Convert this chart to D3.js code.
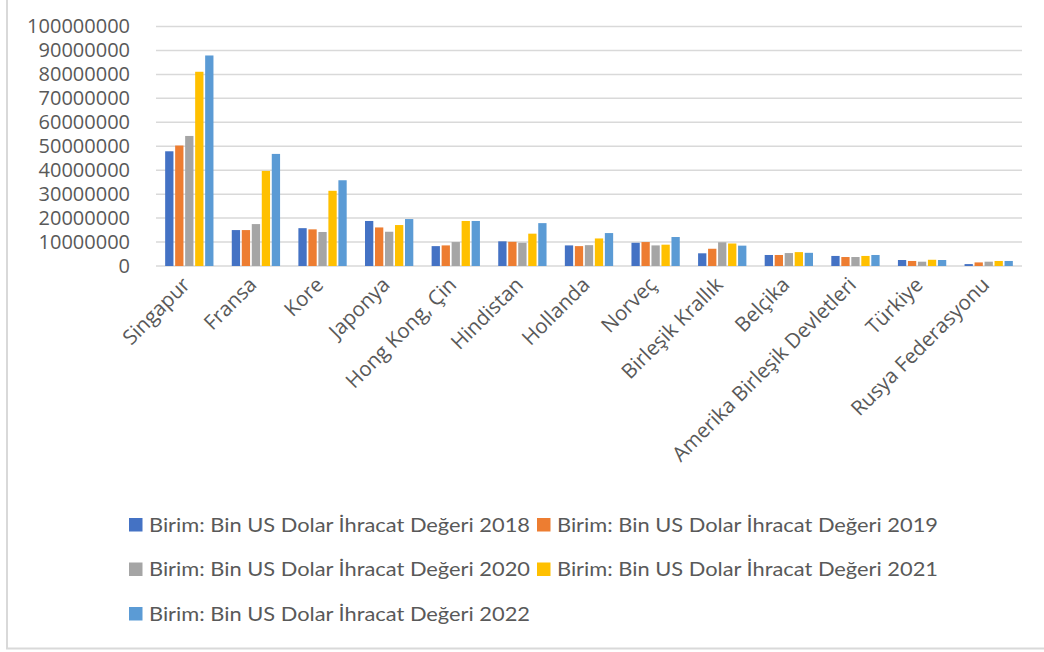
<!DOCTYPE html>
<html>
<head>
<meta charset="utf-8">
<script src="https://cdn.jsdelivr.net/npm/d3@7"></script>
<style>
  body { margin: 0; background: #ffffff; }
  #chart svg { display: block; }
</style>
</head>
<body>
<div id="chart"></div>
<script>
var countries = ["Singapur", "Fransa", "Kore", "Japonya", "Hong Kong, Çin", "Hindistan", "Hollanda",
  "Norveç", "Birleşik Krallık", "Belçika", "Amerika Birleşik Devletleri", "Türkiye", "Rusya Federasyonu"];

var seriesNames = [
  "Birim: Bin US Dolar İhracat Değeri 2018",
  "Birim: Bin US Dolar İhracat Değeri 2019",
  "Birim: Bin US Dolar İhracat Değeri 2020",
  "Birim: Bin US Dolar İhracat Değeri 2021",
  "Birim: Bin US Dolar İhracat Değeri 2022"
];

var v2018 = [47900000, 15000000, 15800000, 18800000, 8300000, 10300000, 8600000, 9700000, 5300000, 4600000, 4200000, 2500000, 800000];
var v2019 = [50300000, 15000000, 15300000, 16100000, 8600000, 10100000, 8300000, 10000000, 7200000, 4600000, 3750000, 2100000, 1500000];
var v2020 = [54300000, 17500000, 14200000, 14300000, 10000000, 9700000, 8700000, 8600000, 9900000, 5400000, 3750000, 1800000, 1800000];
var v2021 = [81100000, 39700000, 31400000, 17100000, 18800000, 13500000, 11500000, 8900000, 9400000, 5800000, 4200000, 2600000, 2100000];
var v2022 = [87900000, 46800000, 35800000, 19600000, 18800000, 17900000, 13750000, 12100000, 8500000, 5500000, 4600000, 2500000, 2100000];

var yTicks = [0, 10000000, 20000000, 30000000, 40000000, 50000000, 60000000, 70000000, 80000000, 90000000, 100000000];

var colors = ["#4472C4", "#ED7D31", "#A5A5A5", "#FFC000", "#5B9BD5"];

function init() {
    var w = 1044;
    var h = 652;
    var allValues = [v2018, v2019, v2020, v2021, v2022];

    var svg = d3.select("#chart")
        .append("svg")
        .attr("width", w)
        .attr("height", h);

    // chart frame
    svg.append("rect")
        .attr("x", 7)
        .attr("y", -5)
        .attr("width", 1060)
        .attr("height", 653.5)
        .attr("fill", "#ffffff")
        .attr("stroke", "#d9d9d9")
        .attr("stroke-width", 2);

    var x0 = d3.scaleBand()
        .domain(countries)
        .range([156, 1022]);

    var x1 = d3.scaleBand()
        .domain(d3.range(seriesNames.length))
        .range([-24.15, 24.15])
        .paddingInner(0.17);

    var y = d3.scaleLinear()
        .domain([0, 100000000])
        .range([266, 26.5]);

    // gridlines
    svg.selectAll("line.grid")
        .data(yTicks)
        .enter()
        .append("line")
        .attr("class", "grid")
        .attr("x1", 156)
        .attr("x2", 1022)
        .attr("y1", function(d) { return y(d); })
        .attr("y2", function(d) { return y(d); })
        .attr("stroke", "#d9d9d9")
        .attr("stroke-width", 1.5);

    // y axis labels
    var yAxis = d3.axisLeft(y)
        .tickValues(yTicks)
        .tickSize(0)
        .tickPadding(0)
        .tickFormat(d3.format("d"));

    var gy = svg.append("g")
        .attr("transform", "translate(130,0)")
        .call(yAxis);
    gy.select(".domain").remove();
    gy.selectAll("text")
        .attr("font-family", "'Open Sans', sans-serif")
        .attr("font-size", "20px")
        .attr("fill", "#595959");

    // bars
    var groups = svg.selectAll("g.country")
        .data(countries)
        .enter()
        .append("g")
        .attr("class", "country")
        .attr("transform", function(d) {
            return "translate(" + (x0(d) + x0.bandwidth() / 2) + ",0)";
        });

    groups.selectAll("rect")
        .data(function(d, i) {
            return allValues.map(function(arr, s) { return { s: s, v: arr[i] }; });
        })
        .enter()
        .append("rect")
        .attr("x", function(d) { return x1(d.s); })
        .attr("width", x1.bandwidth())
        .attr("y", function(d) { return y(d.v); })
        .attr("height", function(d) { return y(0) - y(d.v); })
        .attr("fill", function(d) { return colors[d.s]; });

    // category labels
    svg.selectAll("text.cat")
        .data(countries)
        .enter()
        .append("text")
        .attr("class", "cat")
        .attr("transform", function(d) {
            return "translate(" + (x0(d) + x0.bandwidth() / 2 + 2) + ",286) rotate(-45)";
        })
        .attr("text-anchor", "end")
        .attr("font-family", "'Open Sans', sans-serif")
        .attr("font-size", "20.5px")
        .attr("fill", "#595959")
        .text(function(d) { return d; });

    // legend
    var legendPos = [[129, 518], [537, 518], [129, 562.5], [537, 562.5], [129, 607]];

    var legend = svg.selectAll("g.legend")
        .data(seriesNames)
        .enter()
        .append("g")
        .attr("class", "legend")
        .attr("transform", function(d, i) {
            return "translate(" + legendPos[i][0] + "," + legendPos[i][1] + ")";
        });

    legend.append("rect")
        .attr("width", 13.5)
        .attr("height", 13.5)
        .attr("fill", function(d, i) { return colors[i]; });

    legend.append("text")
        .attr("x", 20)
        .attr("y", 13.5)
        .attr("font-family", "Lato, sans-serif")
        .attr("font-size", "20px")
        .attr("fill", "#595959")
        .attr("textLength", 381)
        .attr("lengthAdjust", "spacingAndGlyphs")
        .text(function(d) { return d; });
}

window.onload = init;
</script>
</body>
</html>
